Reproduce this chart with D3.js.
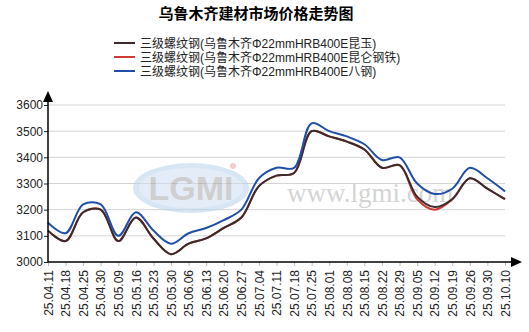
<!DOCTYPE html>
<html>
<head>
<meta charset="utf-8">
<script src="https://cdn.jsdelivr.net/npm/d3@7"></script>
<style>
    body { margin: 0; background: #fff; }
    svg { display: block; font-family: Arial, "Liberation Sans", sans-serif; }
</style>
</head>
<body>
<svg></svg>
<script>
"use strict";

var dates = ['25.04.11', '25.04.18', '25.04.25', '25.04.30', '25.05.09', '25.05.16', '25.05.23',
    '25.05.30', '25.06.06', '25.06.13', '25.06.20', '25.06.27', '25.07.04', '25.07.11',
    '25.07.18', '25.07.25', '25.08.01', '25.08.08', '25.08.15', '25.08.22', '25.08.29',
    '25.09.05', '25.09.12', '25.09.19', '25.09.26', '25.09.30', '25.10.10'];

var kunyu = [3120, 3080, 3190, 3200, 3080, 3170, 3090, 3030, 3070, 3090, 3130, 3170, 3290, 3330,
    3340, 3500, 3480, 3460, 3430, 3360, 3370, 3250, 3210, 3240, 3320, 3280, 3240];
var kunlun = [3120, 3080, 3190, 3200, 3080, 3170, 3090, 3030, 3070, 3090, 3130, 3170, 3290, 3330,
    3340, 3500, 3480, 3460, 3430, 3360, 3370, 3240, 3200, 3240, 3320, 3280, 3240];
var bagang = [3150, 3110, 3220, 3220, 3100, 3190, 3120, 3070, 3110, 3130, 3160, 3200, 3320, 3360,
    3360, 3530, 3500, 3480, 3450, 3390, 3400, 3300, 3260, 3280, 3360, 3320, 3270];

var yTicks = [3000, 3100, 3200, 3300, 3400, 3500, 3600];

var title = '乌鲁木齐建材市场价格走势图';
var series = [
    { name: '三级螺纹钢(乌鲁木齐Φ22mmHRB400E昆玉)', values: kunyu, color: '#3b2b2b' },
    { name: '三级螺纹钢(乌鲁木齐Φ22mmHRB400E昆仑钢铁)', values: kunlun, color: '#d03a36' },
    { name: '三级螺纹钢(乌鲁木齐Φ22mmHRB400E八钢)', values: bagang, color: '#1f4ea6' }
];

var settings = {
    width: 529,
    height: 332,
    plot: { left: 48, right: 505, top: 105, bottom: 262 }
};

var svg = d3.select('svg')
    .attr('width', settings.width)
    .attr('height', settings.height);

var x = d3.scalePoint()
    .domain(dates)
    .range([settings.plot.left, settings.plot.right]);

var y = d3.scaleLinear()
    .domain([3000, 3600])
    .range([settings.plot.bottom, settings.plot.top]);

// title
svg.append('text')
    .attr('x', 256)
    .attr('y', 19)
    .attr('text-anchor', 'middle')
    .style('font-family', '"Noto Sans CJK SC", sans-serif')
    .style('font-size', '15px')
    .style('font-weight', 'bold')
    .text(title);

// legend
var legend = svg.append('g')
    .selectAll('g')
    .data(series)
    .enter()
    .append('g')
    .attr('transform', (d, i) => `translate(114,${43 + i * 14})`);

legend.append('line')
    .attr('x1', 0)
    .attr('x2', 21)
    .attr('stroke', d => d.color)
    .attr('stroke-width', 2);

legend.append('text')
    .attr('x', 26)
    .attr('y', 4.5)
    .style('font-family', 'Arial, "Liberation Sans", "Noto Sans CJK SC", sans-serif')
    .style('font-size', '12px')
    .attr('fill', '#222')
    .text(d => d.name);

// grid
svg.append('g')
    .selectAll('line')
    .data(yTicks.slice(1))
    .enter()
    .append('line')
    .attr('x1', settings.plot.left)
    .attr('x2', settings.plot.right)
    .attr('y1', d => y(d))
    .attr('y2', d => y(d))
    .attr('stroke', '#d4d4d4')
    .attr('stroke-width', 1);

// watermark
var mark = svg.append('g').attr('opacity', 0.55);
mark.append('ellipse')
    .attr('cx', 191)
    .attr('cy', 188)
    .attr('rx', 58)
    .attr('ry', 25)
    .attr('fill', '#b9d3ec');
mark.append('ellipse')
    .attr('cx', 191)
    .attr('cy', 188)
    .attr('rx', 52)
    .attr('ry', 20)
    .attr('fill', '#cfe0f2');
mark.append('text')
    .attr('x', 191)
    .attr('y', 200)
    .attr('text-anchor', 'middle')
    .style('font-size', '34px')
    .style('font-weight', 'bold')
    .attr('fill', '#a8a8a8')
    .text('LGMI');
mark.append('circle')
    .attr('cx', 233)
    .attr('cy', 166)
    .attr('r', 3)
    .attr('fill', '#f0a0a8');
svg.append('text')
    .attr('x', 287)
    .attr('y', 202)
    .style('font-family', '"Liberation Serif", "DejaVu Serif", serif')
    .style('font-size', '27px')
    .attr('fill', '#d4d4d4')
    .text('www.lgmi.com');

// lines
var line = d3.line()
    .x((d, i) => x(dates[i]))
    .y(d => y(d))
    .curve(d3.curveCatmullRom.alpha(0.5));

var drawOrder = [series[1], series[0], series[2]];
svg.append('g')
    .selectAll('path')
    .data(drawOrder)
    .enter()
    .append('path')
    .attr('d', d => line(d.values))
    .attr('fill', 'none')
    .attr('stroke', d => d.color)
    .attr('stroke-width', 2);

// y axis
var yAxis = svg.append('g')
    .attr('transform', `translate(${settings.plot.left},0)`)
    .call(d3.axisLeft(y).tickValues(yTicks).tickFormat(d3.format('d'))
        .tickSize(4).tickSizeOuter(0).tickPadding(1));
yAxis.select('.domain').remove();
yAxis.selectAll('text')
    .style('font-size', '12px')
    .attr('fill', '#222');
yAxis.selectAll('line').attr('stroke', '#222');

svg.append('line')
    .attr('x1', settings.plot.left)
    .attr('x2', settings.plot.left)
    .attr('y1', settings.plot.bottom)
    .attr('y2', 98)
    .attr('stroke', '#000')
    .attr('stroke-width', 1.5);
svg.append('path')
    .attr('d', `M${settings.plot.left},91 L${settings.plot.left - 5},102 L${settings.plot.left + 5},102 Z`)
    .attr('fill', '#000');

// x axis
var xAxis = svg.append('g')
    .attr('transform', `translate(0,${settings.plot.bottom})`)
    .call(d3.axisBottom(x).tickSize(4).tickSizeOuter(0));
xAxis.select('.domain').remove();
xAxis.selectAll('line').attr('stroke', '#bbb');
xAxis.selectAll('text')
    .attr('transform', 'rotate(-90)')
    .attr('text-anchor', 'end')
    .attr('x', -8)
    .attr('y', 0)
    .attr('dy', '0.35em')
    .style('font-size', '12px')
    .attr('fill', '#222');

svg.append('line')
    .attr('x1', settings.plot.left)
    .attr('x2', 513)
    .attr('y1', settings.plot.bottom)
    .attr('y2', settings.plot.bottom)
    .attr('stroke', '#000')
    .attr('stroke-width', 1.5);
svg.append('path')
    .attr('d', `M522,${settings.plot.bottom} L511,${settings.plot.bottom - 5} L511,${settings.plot.bottom + 5} Z`)
    .attr('fill', '#000');
</script>
</body>
</html>
